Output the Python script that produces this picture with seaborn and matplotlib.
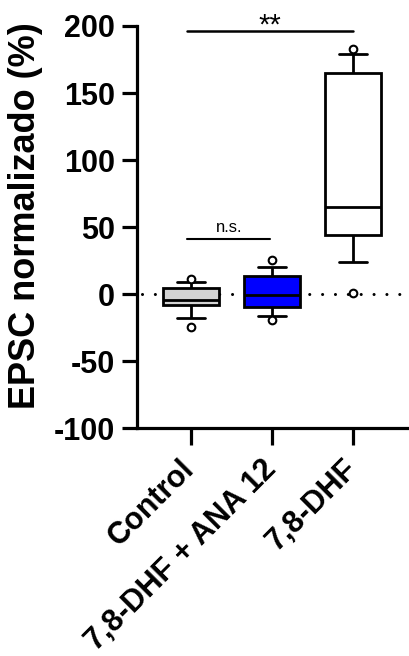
import matplotlib
matplotlib.use("Agg")
import matplotlib.pyplot as plt
import matplotlib.transforms as mtransforms
import seaborn as sns
import pandas as pd

# Data (per group: low outlier, whisker low, Q1, inner, median, inner, Q3, whisker high, high outlier)
groups = ["Control", "7,8-DHF + ANA 12", "7,8-DHF"]
control = [-24.4, -17.7, -8.2, -6.0, -4.0, 0.0, 5.0, 9.2, 11.2]
dhf_ana = [-18.9, -15.9, -9.5, -5.0, -0.2, 6.0, 13.4, 20.4, 25.4]
dhf = [1.3, 24.0, 44.0, 55.0, 65.0, 110.0, 164.7, 179.0, 182.6]
box_colors = ["#d3d3d3", "#0000ff", "#ffffff"]
y_ticks = [-100, -50, 0, 50, 100, 150, 200]
ylabel = "EPSC normalizado (%)"

df = pd.DataFrame({
    "group": sum([[g] * len(v) for g, v in zip(groups, [control, dhf_ana, dhf])], []),
    "value": control + dhf_ana + dhf,
})

sns.set_style("ticks")
plt.rcParams["font.family"] = ["Liberation Sans", "DejaVu Sans"]
for k in ["text.color", "axes.labelcolor", "xtick.color", "ytick.color", "axes.edgecolor"]:
    plt.rcParams[k] = "black"

fig = plt.figure(figsize=(4.09, 6.56), dpi=100)
ax = fig.add_axes([0.335, 0.3468, 0.663, 0.6136])

ax.axhline(0, color="black", lw=2.2, ls=(0, (0.01, 4.2)), dash_capstyle="round", zorder=0.5,
           xmin=0.02, xmax=0.99)

sns.boxplot(data=df, x="group", y="value", hue="group", palette=box_colors, order=groups,
            hue_order=groups, legend=False, width=0.69, whis=(10, 90), linewidth=2,
            linecolor="black", saturation=1, ax=ax,
            flierprops=dict(marker="o", markerfacecolor="white", markeredgecolor="black",
                            markersize=5.5, markeredgewidth=1.5),
            medianprops=dict(color="black", linewidth=2),
            whiskerprops=dict(color="black", linewidth=2),
            capprops=dict(color="black", linewidth=2),
            boxprops=dict(edgecolor="black", linewidth=2))

ax.set_xlim(-0.66, 2.68)
ax.set_ylim(-100, 200)
ax.set_yticks(y_ticks)
ax.set_yticklabels([str(t) for t in y_ticks], fontsize=22, fontweight="bold")
ax.set_xticks(range(len(groups)))
ax.set_xlabel("")
ax.set_ylabel(ylabel, fontsize=26, fontweight="bold")
ax.yaxis.set_label_coords(-0.347, 0.53)

for side in ["top", "right"]:
    ax.spines[side].set_visible(False)
for side in ["left", "bottom"]:
    ax.spines[side].set_linewidth(2.3)
ax.tick_params(axis="y", length=11, width=2.3, pad=5)
ax.tick_params(axis="x", length=12, width=2.3, pad=4)

ax.set_xticklabels(groups, fontsize=22, fontweight="bold", rotation=45, ha="right",
                   rotation_mode="anchor")
offset = mtransforms.ScaledTranslation(-11 / 100, -3 / 100, fig.dpi_scale_trans)
for lab in ax.get_xticklabels():
    lab.set_transform(lab.get_transform() + offset)

# significance annotations
ax.plot([-0.05, 2.0], [196, 196], color="black", lw=1.8, clip_on=False)
ax.text(0.98, 194.5, "**", ha="center", va="baseline", fontsize=21, clip_on=False)
ax.plot([-0.05, 0.98], [41, 41], color="black", lw=1.5, clip_on=False)
ax.text(0.47, 44, "n.s.", ha="center", va="bottom", fontsize=12)

fig.savefig("out.png", dpi=100)
